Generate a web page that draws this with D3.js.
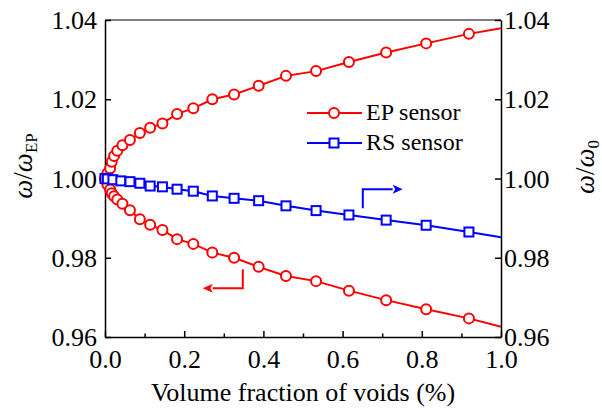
<!DOCTYPE html>
<html>
<head>
<meta charset="utf-8">
<script src="https://d3js.org/d3.v7.min.js"></script>
<style>
  body { margin: 0; background: #fff; }
</style>
</head>
<body>
<div id="chart"></div>
<script>
// data
var voidFrac = [0, 0.006, 0.013, 0.017, 0.023, 0.031, 0.044, 0.063, 0.088, 0.114, 0.145, 0.182,
  0.223, 0.271, 0.326, 0.388, 0.457, 0.533, 0.616, 0.710, 0.811, 0.919, 1.0];
var epUpper = [1.0000, 1.0013, 1.0026, 1.0042, 1.0057, 1.0070, 1.0084, 1.0097, 1.0115, 1.0128, 1.0139, 1.0163,
  1.0177, 1.0200, 1.0212, 1.0234, 1.0259, 1.0271, 1.0294, 1.0318, 1.0341, 1.0365, 1.0379];
var epLower = [1.0000, 0.9985, 0.9972, 0.9963, 0.9955, 0.9947, 0.9936, 0.9920, 0.9897, 0.9883, 0.9870, 0.9847,
  0.9835, 0.9813, 0.9800, 0.9777, 0.9754, 0.9741, 0.9717, 0.9693, 0.9670, 0.9647, 0.9626];
var rsFrac = [0, 0.006, 0.02, 0.04, 0.063, 0.088, 0.114, 0.145, 0.182, 0.223, 0.271, 0.326,
  0.388, 0.457, 0.533, 0.616, 0.710, 0.811, 0.919, 1.0];
var rsVals = [1.0000, 0.9999, 0.9997, 0.9994, 0.9992, 0.9988, 0.9981, 0.9979, 0.9973, 0.9968, 0.9956, 0.9950,
  0.9944, 0.9931, 0.9919, 0.9908, 0.9895, 0.9882, 0.9865, 0.9852];
var xTicks = [0, 0.2, 0.4, 0.6, 0.8, 1.0];
var xMinor = [0.1, 0.3, 0.5, 0.7, 0.9];
var yTicks = [0.96, 0.98, 1.00, 1.02, 1.04];
var seriesNames = ["EP sensor", "RS sensor"];

var svgWidth = 602;
var svgHeight = 411;
var margin = { top: 20, right: 101, bottom: 74, left: 105 };
var width = svgWidth - margin.left - margin.right;
var height = svgHeight - margin.top - margin.bottom;

var red = "#ff0000";
var blue = "#0000ff";
var serif = "'Liberation Serif'";

var svg = d3.select("#chart")
  .append("svg")
  .attr("width", svgWidth)
  .attr("height", svgHeight);

var chartGroup = svg.append("g")
  .attr("transform", `translate(${margin.left}, ${margin.top})`);

var xScale = d3.scaleLinear().domain([0, 1]).range([0, width]);
var yScale = d3.scaleLinear().domain([0.96, 1.04]).range([height, 0]);
// right axis has the same range
var y2Scale = d3.scaleLinear().domain([0.96, 1.04]).range([height, 0]);

// axes, ticks point inwards
var bottomAxis = chartGroup.append("g")
  .attr("transform", `translate(0, ${height})`)
  .call(d3.axisBottom(xScale).tickValues(xTicks).tickSizeInner(-6).tickSizeOuter(0)
    .tickFormat(d3.format(".1f")));
bottomAxis.selectAll("text").attr("y", 31).attr("dy", 0);

chartGroup.append("g")
  .attr("transform", `translate(0, ${height})`)
  .call(d3.axisBottom(xScale).tickValues(xMinor).tickSizeInner(-3.5).tickSizeOuter(0).tickFormat(""))
  .select(".domain").remove();

var leftAxis = chartGroup.append("g")
  .call(d3.axisLeft(yScale).tickValues(yTicks).tickSizeInner(-6).tickSizeOuter(0)
    .tickFormat(d3.format(".2f")));
leftAxis.selectAll("text").attr("x", -8).attr("dy", "0.33em");

var rightAxis = chartGroup.append("g")
  .attr("transform", `translate(${width}, 0)`)
  .call(d3.axisRight(y2Scale).tickValues(yTicks).tickSizeInner(-6).tickSizeOuter(0)
    .tickFormat(d3.format(".2f")));
rightAxis.selectAll("text").attr("x", 3).attr("dy", "0.33em");

[bottomAxis, leftAxis, rightAxis].forEach(function(ax) {
  ax.attr("font-family", null).attr("font-size", null);
  ax.selectAll("text")
    .style("font-family", serif)
    .style("font-size", "26px")
    .attr("fill", "#000");
});

// top frame line
chartGroup.append("line")
  .attr("x1", 0).attr("x2", width)
  .attr("y1", 0).attr("y2", 0)
  .attr("stroke", "#000");

chartGroup.selectAll(".domain, .tick line").attr("stroke", "#000").attr("stroke-width", 1.5);

// build point lists
var upperPts = voidFrac.map((x, i) => ({ x: x, y: epUpper[i] }));
var lowerPts = voidFrac.map((x, i) => ({ x: x, y: epLower[i] }));
var rsPts = rsFrac.map((x, i) => ({ x: x, y: rsVals[i] }));

var lineLeft = d3.line().x(d => xScale(d.x)).y(d => yScale(d.y));
var lineRight = d3.line().x(d => xScale(d.x)).y(d => y2Scale(d.y));

// EP sensor, two branches
[upperPts, lowerPts].forEach(function(pts) {
  chartGroup.append("path")
    .datum(pts)
    .attr("d", lineLeft)
    .attr("fill", "none")
    .attr("stroke", red)
    .attr("stroke-width", 2);
});
[upperPts, lowerPts].forEach(function(pts) {
  chartGroup.append("g").selectAll("circle")
    .data(pts.filter(d => d.x < 1))
    .enter()
    .append("circle")
    .attr("cx", d => xScale(d.x))
    .attr("cy", d => yScale(d.y))
    .attr("r", 5)
    .attr("fill", "#fff")
    .attr("stroke", red)
    .attr("stroke-width", 2);
});

// RS sensor
chartGroup.append("path")
  .datum(rsPts)
  .attr("d", lineRight)
  .attr("fill", "none")
  .attr("stroke", blue)
  .attr("stroke-width", 2);

chartGroup.append("g").selectAll("rect")
  .data(rsPts.filter(d => d.x < 1))
  .enter()
  .append("rect")
  .attr("x", d => xScale(d.x) - 4.5)
  .attr("y", d => y2Scale(d.y) - 4.5)
  .attr("width", 9)
  .attr("height", 9)
  .attr("fill", "#fff")
  .attr("stroke", blue)
  .attr("stroke-width", 2);

// arrows pointing to the matching axis
function drawArrow(xCorner, yStart, yCorner, xTip, color) {
  var cx = xScale(xCorner), sy = yScale(yStart), cy = yScale(yCorner), tx = xScale(xTip);
  var dir = tx > cx ? 1 : -1;
  var headStart = tx - dir * 10;
  chartGroup.append("path")
    .attr("d", `M${cx},${sy}V${cy}H${headStart}`)
    .attr("fill", "none")
    .attr("stroke", color)
    .attr("stroke-width", 2);
  chartGroup.append("path")
    .attr("d", `M${tx},${cy}L${headStart},${cy - 4.5}L${headStart + dir * 2.5},${cy}L${headStart},${cy + 4.5}Z`)
    .attr("fill", color);
}
drawArrow(0.651, 0.9925, 0.9973, 0.7517, blue);
drawArrow(0.348, 0.9771, 0.9723, 0.247, red);

// legend
var legend = chartGroup.append("g")
  .attr("transform", `translate(${307 - margin.left}, ${113 - margin.top})`);

seriesNames.forEach(function(name, i) {
  var color = i === 0 ? red : blue;
  var row = legend.append("g").attr("transform", `translate(0, ${i * 30})`);
  row.append("line")
    .attr("x1", 0).attr("x2", 55)
    .attr("y1", 0).attr("y2", 0)
    .attr("stroke", color)
    .attr("stroke-width", 2);
  if (i === 0) {
    row.append("circle")
      .attr("cx", 27).attr("cy", 0).attr("r", 5)
      .attr("fill", "#fff").attr("stroke", color).attr("stroke-width", 2);
  } else {
    row.append("rect")
      .attr("x", 22.5).attr("y", -4.5).attr("width", 9).attr("height", 9)
      .attr("fill", "#fff").attr("stroke", color).attr("stroke-width", 2);
  }
  row.append("text")
    .attr("x", 59)
    .attr("y", 7)
    .style("font-family", serif)
    .style("font-size", "24px")
    .text(name);
});

// axis titles
svg.append("text")
  .attr("x", margin.left + width / 2)
  .attr("y", 401)
  .attr("text-anchor", "middle")
  .style("font-family", serif)
  .style("font-size", "26px")
  .text("Volume fraction of voids (%)");

function omegaTitle(tx, ty, sub) {
  var t = svg.append("text")
    .attr("transform", `translate(${tx}, ${ty}) rotate(-90)`)
    .attr("text-anchor", "middle")
    .style("font-family", serif)
    .style("font-size", "27px");
  t.append("tspan").style("font-style", "italic").text("ω");
  t.append("tspan").text("/");
  t.append("tspan").style("font-style", "italic").text("ω");
  t.append("tspan").attr("dy", 5).style("font-size", "17px").text(sub);
}
omegaTitle(32, 166, "EP");
omegaTitle(594, 167, "0");
</script>
</body>
</html>
